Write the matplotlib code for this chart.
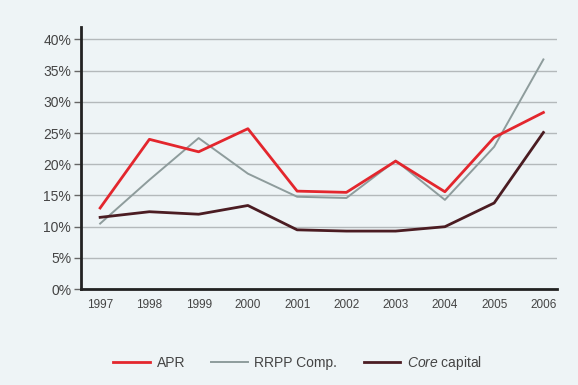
import matplotlib
matplotlib.use("Agg")
import matplotlib.pyplot as plt

years = [1997, 1998, 1999, 2000, 2001, 2002, 2003, 2004, 2005, 2006]
apr = [13.0, 24.0, 22.0, 25.7, 15.7, 15.5, 20.5, 15.6, 24.3, 28.3]
rrpp = [10.5, 17.5, 24.2, 18.5, 14.8, 14.6, 20.6, 14.3, 22.8, 36.8]
core = [11.5, 12.4, 12.0, 13.4, 9.5, 9.3, 9.3, 10.0, 13.8, 25.1]
yticks = [0, 5, 10, 15, 20, 25, 30, 35, 40]

plt.rcParams['font.family'] = ['Liberation Sans', 'DejaVu Sans']
plt.rcParams['mathtext.fontset'] = 'custom'
plt.rcParams['mathtext.it'] = 'Liberation Sans:italic'
plt.rcParams['mathtext.rm'] = 'Liberation Sans'

bg = '#eef4f6'
text_c = '#444444'
fig = plt.figure(figsize=(5.78, 3.85), dpi=100, facecolor=bg)
ax = fig.add_axes([0.140, 0.249, 0.824, 0.681], facecolor=bg)

for y in yticks:
    ax.axhline(y, color='#b4b9bb', lw=1.0, zorder=1)

ax.plot(years, apr, color='#e3262d', lw=2.0, label='APR', zorder=3)
ax.plot(years, rrpp, color='#8e9c9c', lw=1.4, label='RRPP Comp.', zorder=2)
ax.plot(years, core, color='#4b1c22', lw=2.0, label=r'$\it{Core}$ capital', zorder=3)

ax.set_xlim(1996.61, 2006.28)
ax.set_ylim(0, 42)
ax.set_xticks(years)
ax.set_xticklabels([str(y) for y in years], fontsize=8.5, color=text_c)
ax.set_yticks(yticks)
ax.set_yticklabels([f'{y}%' for y in yticks], fontsize=10, color=text_c)
ax.tick_params(axis='x', length=0, pad=7)
ax.tick_params(axis='y', length=5, width=1.0, color='#666666', pad=2)

for s in ['top', 'right']:
    ax.spines[s].set_visible(False)
for s in ['left', 'bottom']:
    ax.spines[s].set_color('#222222')
    ax.spines[s].set_linewidth(2.0)

fig.legend(loc='center', bbox_to_anchor=(0.515, 0.057), ncol=3, frameon=False,
           fontsize=10, handlelength=2.6, columnspacing=1.9, handletextpad=0.5,
           labelcolor=text_c)

fig.savefig('out.png', dpi=100, facecolor=bg)
